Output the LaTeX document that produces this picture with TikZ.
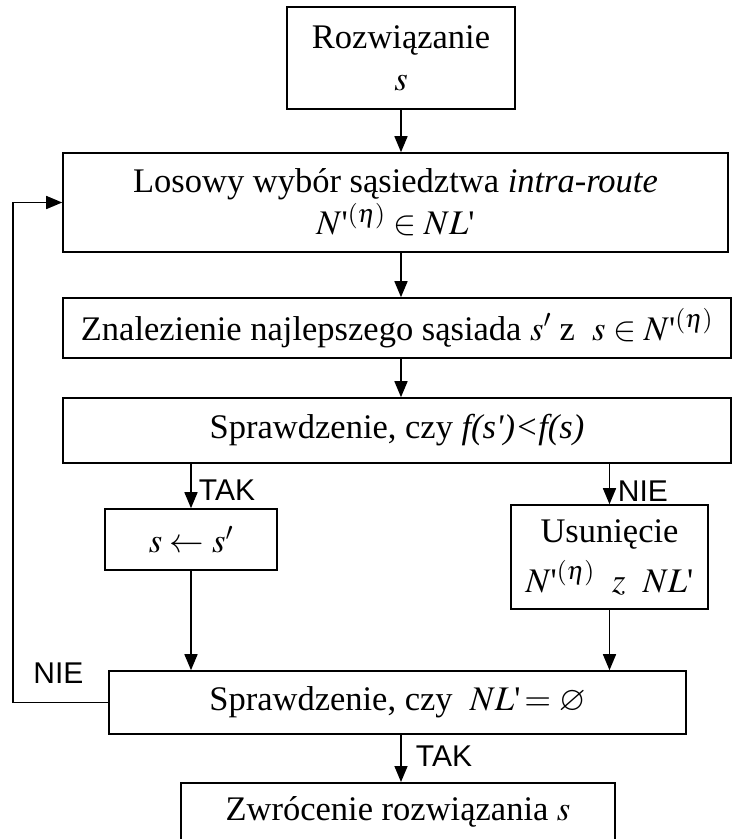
\documentclass[tikz,border=0pt]{standalone}
\usepackage{mathptmx}
\usepackage{amssymb}
\usepackage[no-math]{fontspec}
\setmainfont{Liberation Serif}
\newfontfamily\labelfont{Liberation Sans}
\usetikzlibrary{arrows.meta}
\newcommand{\tick}{\textnormal{\textquotesingle}}

\begin{document}
\begin{tikzpicture}[x=1pt, y=-1pt,
  box/.style={draw, line width=1.6pt, align=center, inner sep=4pt, font=\fontsize{34.5}{42}\selectfont},
  flow/.style={line width=1.6pt, -{Triangle[length=16pt, width=13pt]}},
  lbl/.style={font=\labelfont\fontsize{30}{30}\selectfont, inner sep=0pt}]
  \useasboundingbox (0, 0) rectangle (732, 839);

  % main column of steps
  \node[box, minimum width=228, minimum height=102] (start) at (401, 58) {Rozwiązanie\\$s$};
  \node[box, minimum width=665, minimum height=99] (pick) at (395.5, 202.5) {Losowy wybór sąsiedztwa \textit{intra-route}\\$N\tick^{(\eta)}\in NL\tick$};
  \node[box, minimum width=668, minimum height=60] (best) at (397, 328) {Znalezienie najlepszego sąsiada $s'$ z\ \ $s\in N\tick^{(\eta)}$};
  \node[box, minimum width=668, minimum height=65] (cmp) at (397, 430.5) {Sprawdzenie, czy \textit{f(s\textquotesingle)<f(s)}};

  % the two branches
  \node[box, minimum width=172, minimum height=61] (upd) at (191, 539.5) {$s\leftarrow s'$};
  \node[box, minimum width=197, minimum height=104] (del) at (609.5, 557) {Usunięcie\\[8pt]$N\tick^{(\eta)}$\ \ $z$\ \ $NL\tick$};

  % end test and result (result box runs past the page)
  \node[box, minimum width=577, minimum height=63] (empty) at (397.5, 702.5) {Sprawdzenie, czy\ \ $NL\tick\!=\varnothing$};
  \node[box, minimum width=434, anchor=north, text height=34pt, text depth=40pt] (ret) at (398, 782) {Zwrócenie rozwiązania $s$};

  % branch labels
  \node[lbl] (tak1) at (227, 490) {TAK};
  \node[lbl] (nie1) at (643, 491) {NIE};
  \node[lbl] (nie2) at (58.5, 673.5) {NIE};
  \node[lbl] (tak2) at (444, 756) {TAK};

  % arrows
  \coordinate (loop) at (13, 0);
  \draw[flow] (start.south) -- (start.south |- pick.north);
  \draw[flow] (start.south |- pick.south) -- (start.south |- best.north);
  \draw[flow] (start.south |- best.south) -- (start.south |- cmp.north);
  \draw[flow] (upd.north |- cmp.south) -- (upd.north);
  \draw[flow] (del.north |- cmp.south) -- (del.north);
  \draw[flow] (upd.south) -- (upd.south |- empty.north);
  \draw[flow] (del.south) -- (del.south |- empty.north);
  \draw[flow] (start.south |- empty.south) -- (start.south |- ret.north);
  \draw[flow] (empty.west) -- (empty.west -| loop) |- (pick.west);
\end{tikzpicture}
\end{document}
